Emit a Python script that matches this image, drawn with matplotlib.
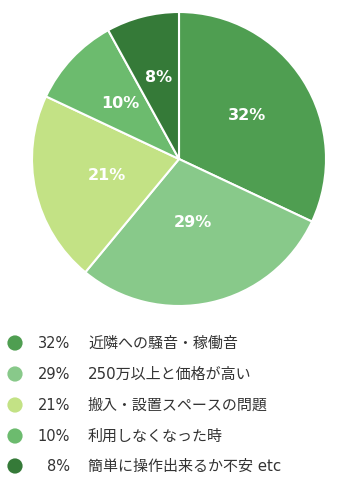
import numpy as np
import matplotlib.pyplot as plt

plt.rcParams['font.family'] = ['DejaVu Sans', 'Noto Sans CJK JP']

shares = [32, 29, 21, 10, 8]
reasons = ['近隣への騒音・稼働音', '250万以上と価格が高い', '搬入・設置スペースの問題',
           '利用しなくなった時', '簡単に操作出来るか不安 etc']
colors = ['#4f9e51', '#88c98a', '#c3e285', '#6cbb6e', '#357a38']

W, H = 348, 486
fig = plt.figure(figsize=(W / 100, H / 100), dpi=100)

# pie area, centre (179,159) radius 147 px
cx, cy, r = 179, 159, 147
ax = fig.add_axes([(cx - r) / W, (H - cy - r) / H, 2 * r / W, 2 * r / H])
wedges, _ = ax.pie(shares, colors=colors, startangle=90, counterclock=False,
                   wedgeprops=dict(edgecolor='white', linewidth=1.5))
label_r = [0.55, 0.44, 0.5, 0.55, 0.57]
for w, v, rr in zip(wedges, shares, label_r):
    mid = np.deg2rad((w.theta1 + w.theta2) / 2)
    ax.text(rr * np.cos(mid), rr * np.sin(mid), f'{v}%', ha='center', va='center',
            color='white', fontsize=11.5, fontweight='bold')
ax.set_xlim(-1, 1)
ax.set_ylim(-1, 1)
ax.set_aspect('equal')
ax.axis('off')

# legend rows
lg = fig.add_axes([0, 0, 1, 1])
lg.set_xlim(0, W)
lg.set_ylim(H, 0)
lg.axis('off')
row_y = [343, 374, 405, 436, 466]
for y, v, name, c in zip(row_y, shares, reasons, colors):
    lg.scatter([15], [y], s=120, color=c, edgecolors='none')
    lg.text(70, y, f'{v}%', ha='right', va='center', fontsize=10.5, color='#333333')
    lg.text(88, y, name, ha='left', va='center', fontsize=10.8, color='#333333')

fig.savefig('out.png', dpi=100, facecolor='white')
